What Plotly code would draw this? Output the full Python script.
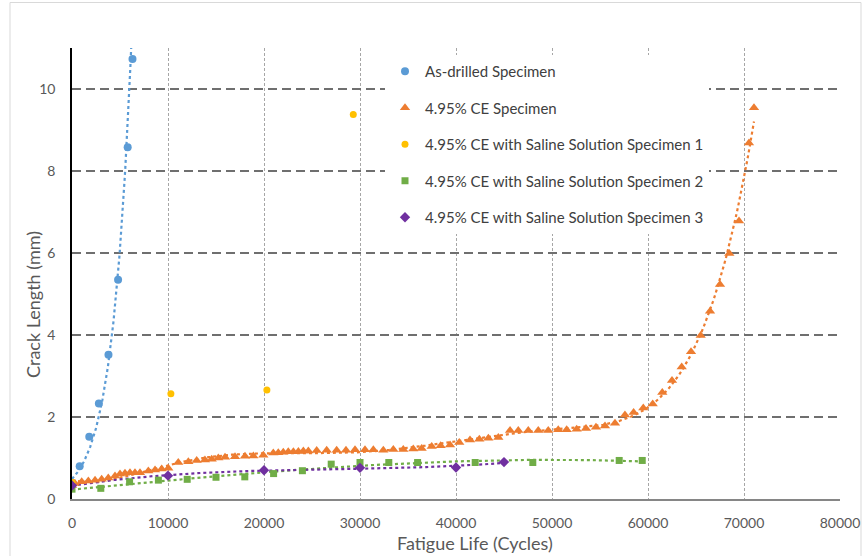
import numpy as np
import plotly.graph_objects as go

# ---------------- data ----------------
blue_x = [0, 800, 1800, 2800, 3800, 4800, 5800, 6300]
blue_y = [0.35, 0.80, 1.52, 2.33, 3.52, 5.35, 8.58, 10.73]

orange_x = [0, 310, 1010, 1700, 2400, 3090, 3780, 4480, 5000, 5520, 6040, 6560, 7080,
            7950, 8650, 9340, 10030, 11070, 12120, 12990, 13850, 14550, 15240,
            15940, 16980, 18020, 18890, 19930, 20970, 21490, 22010, 22530, 23060,
            23580, 24100, 24620, 25490, 26530, 27570, 28540, 29480, 30520, 31390,
            32430, 33470, 34510, 35550, 36420, 37470, 38400, 39380, 40340, 41460,
            42430, 43370, 44410, 45630, 46490, 47530, 48570, 49610, 50650, 51530,
            52570, 53540, 54580, 55520, 56560, 57600, 58500, 59510, 60490, 61490,
            62500, 63510, 64480, 65490, 66460, 67500, 68470, 69480, 70520, 71040]
orange_y = [0.33, 0.38, 0.42, 0.44, 0.46, 0.48, 0.51, 0.56, 0.61, 0.63, 0.64, 0.64, 0.64,
            0.68, 0.71, 0.73, 0.75, 0.89, 0.91, 0.94, 0.95, 0.97, 1.00,
            1.02, 1.03, 1.04, 1.05, 1.07, 1.12, 1.13, 1.14, 1.15, 1.15,
            1.16, 1.17, 1.17, 1.18, 1.19, 1.19, 1.19, 1.20, 1.20, 1.20,
            1.19, 1.21, 1.21, 1.22, 1.23, 1.28, 1.30, 1.32, 1.38, 1.44,
            1.46, 1.48, 1.50, 1.67, 1.67, 1.67, 1.67, 1.67, 1.69, 1.69,
            1.70, 1.72, 1.75, 1.78, 1.85, 2.05, 2.11, 2.22, 2.32, 2.60,
            2.89, 3.22, 3.59, 3.99, 4.58, 5.23, 5.99, 6.78, 8.68, 9.54]

yellow_x = [0, 10300, 20300, 29300]
yellow_y = [0.40, 2.57, 2.66, 9.38]

green_x = [0, 3000, 6000, 9000, 12000, 15000, 18000, 21000, 24000, 27000, 30000,
           33000, 36000, 42000, 48000, 57000, 59400]
green_y = [0.24, 0.26, 0.42, 0.46, 0.48, 0.53, 0.54, 0.62, 0.69, 0.85, 0.89,
           0.89, 0.89, 0.89, 0.89, 0.94, 0.94]

purple_x = [0, 10000, 20000, 30000, 40000, 45000]
purple_y = [0.33, 0.57, 0.70, 0.76, 0.77, 0.90]

names = ["As-drilled Specimen", "4.95% CE Specimen",
         "4.95% CE with Saline Solution Specimen 1",
         "4.95% CE with Saline Solution Specimen 2",
         "4.95% CE with Saline Solution Specimen 3"]

x_ticks = [0, 10000, 20000, 30000, 40000, 50000, 60000, 70000, 80000]
y_ticks = [0, 2, 4, 6, 8, 10]

C_BLUE, C_ORANGE, C_YELLOW, C_GREEN, C_PURPLE = "#5B9BD5", "#ED7D31", "#FFC000", "#70AD47", "#7030A0"
FONT = "Lato"
TXT = "#595959"

# ---------------- trendlines (fitted from data) ----------------
def exp_trend(x, y, n=120):
    b, a = np.polyfit(np.array(x, float), np.log(np.array(y, float)), 1)
    xs = np.linspace(min(x), max(x), n)
    return xs, np.exp(a) * np.exp(b * xs)

def poly_trend(x, y, deg, n=300):
    xx = np.array(x, float) / 1e4
    c = np.polyfit(xx, np.array(y, float), deg)
    xs = np.linspace(min(x), max(x), n)
    return xs, np.polyval(c, xs / 1e4)

fig = go.Figure()

trends = [
    (exp_trend(blue_x, blue_y), C_BLUE),
    (poly_trend(orange_x, orange_y, 6), C_ORANGE),
    (poly_trend(green_x, green_y, 3), C_GREEN),
    (poly_trend(purple_x, purple_y, 3), C_PURPLE),
]
for (xs, ys), col in trends:
    fig.add_trace(go.Scatter(x=xs, y=ys, mode="lines", showlegend=False, hoverinfo="skip",
                             line=dict(color=col, width=2.2, dash="dot")))

series = [
    (blue_x, blue_y, C_BLUE, "circle", 8),
    (orange_x, orange_y, C_ORANGE, "triangle-up", 9),
    (yellow_x, yellow_y, C_YELLOW, "circle", 7),
    (green_x, green_y, C_GREEN, "square", 7),
    (purple_x, purple_y, C_PURPLE, "diamond", 8),
]
for i, (x, y, col, sym, sz) in enumerate(series):
    fig.add_trace(go.Scatter(x=x, y=y, mode="markers", name=names[i], legendgroup=f"g{i}",
                             marker=dict(color=col, symbol=sym, size=sz, line=dict(width=0))))

fig.update_layout(
    width=863, height=556,
    margin=dict(l=72, r=23, t=48, b=57, autoexpand=False),
    paper_bgcolor="white", plot_bgcolor="white",
    font=dict(family=FONT, size=14, color=TXT),
    legend=dict(x=(385 - 72) / 768, y=(499 - 55) / 451, xanchor="left", yanchor="top", bgcolor="white",
                font=dict(family=FONT, size=15, color="#404040"),
                tracegroupgap=14, itemwidth=30),
    showlegend=True,
)
fig.update_xaxes(range=[0, 80000], tickvals=x_ticks, ticktext=[str(v) for v in x_ticks],
                 showgrid=True, gridcolor="#a6a6a6", gridwidth=1, griddash="3px,2px",
                 showline=True, linecolor="#868686", linewidth=1.5, zeroline=False, automargin=False,
                 ticks="", ticklabelstandoff=10, tickfont=dict(size=14, color=TXT))
fig.update_yaxes(range=[0, 11], tickvals=y_ticks, ticktext=[str(v) for v in y_ticks],
                 showgrid=True, gridcolor="#6f6f6f", gridwidth=1.5, griddash="9px,5px",
                 showline=True, linecolor="black", linewidth=1.5, zeroline=False, automargin=False,
                 ticks="", ticklabelstandoff=12, tickfont=dict(size=14, color=TXT))

# chart border
fig.add_shape(type="rect", xref="paper", yref="paper",
              x0=(10 - 72) / 768, x1=(861 - 72) / 768, y0=-0.2, y1=(499 - 2.5) / 451,
              line=dict(color="#d9d9d9", width=1), fillcolor="rgba(0,0,0,0)", layer="below")

fig.add_annotation(text="Fatigue Life (Cycles)", xref="paper", yref="paper",
                   x=(475 - 72) / 768, y=(499 - 543) / 451, xanchor="center", yanchor="middle",
                   showarrow=False, font=dict(family=FONT, size=18, color=TXT))
fig.add_annotation(text="Crack Length (mm)", xref="paper", yref="paper",
                   x=(33 - 72) / 768, y=(499 - 305) / 451, xanchor="center", yanchor="middle",
                   showarrow=False, textangle=-90,
                   font=dict(family=FONT, size=18, color=TXT))

fig.write_html("out.html")
